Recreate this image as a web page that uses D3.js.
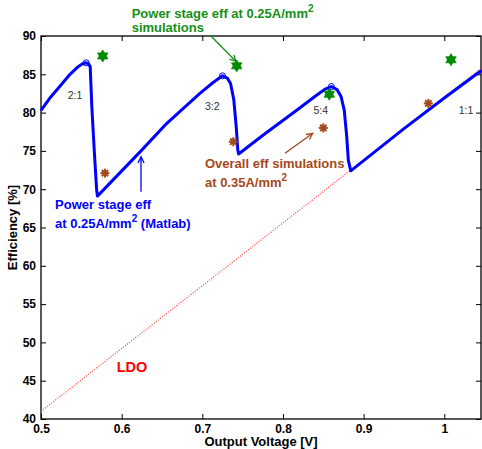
<!DOCTYPE html>
<html>
<head>
<meta charset="utf-8">
<script src="https://cdn.jsdelivr.net/npm/d3@7"></script>
<style>
  body { margin: 0; background: #fff; }
  svg { font-family: "Liberation Sans", Arial, Helvetica, sans-serif; }
  .tick text { font-weight: bold; font-size: 12px; fill: #000; }
</style>
</head>
<body>
<script>
// Matlab power stage efficiency @0.25A/mm2 (V, %)
const matlabCurve = [
  [0.500, 80.3], [0.511, 81.9], [0.524, 83.5], [0.536, 85.0], [0.546, 86.0], [0.551, 86.35], [0.556, 86.5],
  [0.559, 86.35], [0.561, 86.0], [0.563, 80.8], [0.566, 75.1], [0.569, 69.9], [0.570, 69.1],
  [0.624, 75.0], [0.656, 78.6], [0.697, 82.5], [0.713, 83.9], [0.725, 84.8],
  [0.731, 84.5], [0.735, 83.8], [0.739, 81.7], [0.742, 78.2], [0.744, 75.1], [0.745, 74.6],
  [0.776, 77.1], [0.817, 80.3], [0.842, 82.3], [0.853, 83.1], [0.860, 83.4],
  [0.867, 83.0], [0.872, 82.1], [0.876, 80.3], [0.879, 76.9], [0.881, 73.8], [0.884, 72.4],
  [0.950, 77.9], [1.000, 81.9], [1.046, 85.5]
];
// peaks marked with circles
const peakMarks = [[0.556, 86.5], [0.725, 84.8], [0.860, 83.4]];
// power stage simulations @0.25A/mm2
const simPower = [[0.5765, 87.4], [0.7426, 86.1], [0.8574, 82.4], [1.0083, 86.9]];
// overall simulations @0.35A/mm2
const simOverall = [[0.5793, 72.1], [0.7384, 76.2], [0.8500, 78.0], [0.9802, 81.2]];
// LDO efficiency
const ldoLine = [[0.5, 41.0], [0.75, 61.5], [1.046, 85.8]];
// conversion ratio labels
const ratioLabels = [["2:1", 0.5421, 82.2], ["3:2", 0.7124, 80.8], ["5:4", 0.8468, 80.3], ["1:1", 1.0269, 80.3]];

const xTicks = [0.5, 0.6, 0.7, 0.8, 0.9, 1];
const yTicks = [40, 45, 50, 55, 60, 65, 70, 75, 80, 85, 90];

const W = 482, H = 449;
const x = d3.scaleLinear().domain([0.5, 1.0455]).range([41, 481]);
const y = d3.scaleLinear().domain([40, 90]).range([419, 36]);

const svg = d3.select("body").append("svg")
  .attr("width", W).attr("height", H);

// axes box with inward ticks
svg.append("g").attr("transform", `translate(0,${y(40)})`)
  .call(d3.axisBottom(x).tickValues(xTicks).tickSize(-5).tickPadding(5).tickFormat(d => d))
  .call(g => g.select(".domain").remove());
svg.append("g").attr("transform", `translate(0,${y(90)})`)
  .call(d3.axisTop(x).tickValues(xTicks).tickSize(-5).tickFormat(""))
  .call(g => g.select(".domain").remove());
svg.append("g").attr("transform", `translate(${x(0.5)},0)`)
  .call(d3.axisLeft(y).tickValues(yTicks).tickSize(-5).tickPadding(5))
  .call(g => g.select(".domain").remove());
svg.append("g").attr("transform", `translate(${x.range()[1]},0)`)
  .call(d3.axisRight(y).tickValues(yTicks).tickSize(-5).tickFormat(""))
  .call(g => g.select(".domain").remove());
svg.selectAll(".tick line").attr("stroke", "#000");

svg.append("rect")
  .attr("x", x(0.5)).attr("y", y(90))
  .attr("width", x.range()[1] - x(0.5)).attr("height", y(40) - y(90))
  .attr("fill", "none").attr("stroke", "#000").attr("stroke-width", 1.3);

const line = d3.line().x(d => x(d[0])).y(d => y(d[1]));

// LDO
svg.append("path").datum(ldoLine)
  .attr("d", line).attr("fill", "none")
  .attr("stroke", "#ff4040").attr("stroke-width", 1.3)
  .attr("stroke-dasharray", "1,1.6");

// Matlab curve
svg.append("path").datum(matlabCurve)
  .attr("d", line).attr("fill", "none")
  .attr("stroke", "#0000ff").attr("stroke-width", 3)
  .attr("stroke-linejoin", "round");

svg.selectAll("circle.peak").data(peakMarks).enter().append("circle")
  .attr("cx", d => x(d[0])).attr("cy", d => y(d[1])).attr("r", 3)
  .attr("fill", "none").attr("stroke", "#0000ff").attr("stroke-width", 1);

// hexagram markers
function hexagram(r) {
  const p = [];
  for (let k = 0; k < 2; k++) {
    const pts = d3.range(3).map(i => {
      const a = -Math.PI / 2 + k * Math.PI + i * 2 * Math.PI / 3;
      return [r * Math.cos(a), r * Math.sin(a)];
    });
    p.push("M" + pts.map(q => q.join(",")).join("L") + "Z");
  }
  return p.join("");
}
svg.selectAll("path.sim").data(simPower).enter().append("path")
  .attr("d", hexagram(6))
  .attr("transform", d => `translate(${x(d[0])},${y(d[1])})`)
  .attr("fill", "#008a00").attr("stroke", "#008a00").attr("stroke-width", 0.8);

// asterisk markers
const astColor = "#a5481a";
svg.selectAll("g.ast").data(simOverall).enter().append("g")
  .attr("transform", d => `translate(${x(d[0])},${y(d[1])})`)
  .each(function () {
    const g = d3.select(this);
    [0, 45, 90, 135].forEach(a => {
      g.append("line").attr("x1", -4.5).attr("x2", 4.5)
        .attr("transform", `rotate(${a})`)
        .attr("stroke", astColor).attr("stroke-width", 2);
    });
    g.append("circle").attr("r", 2.5).attr("fill", astColor);
  });

// ratio labels
svg.selectAll("text.ratio").data(ratioLabels).enter().append("text")
  .attr("x", d => x(d[1])).attr("y", d => y(d[2]))
  .attr("dy", "0.35em").attr("text-anchor", "middle")
  .attr("font-size", 10.5).attr("fill", "#333").text(d => d[0]);

// annotations
// green
(function () {
  const t = svg.append("text").attr("font-weight", "bold").attr("font-size", 13).attr("fill", "#168f16");
  t.append("tspan").attr("x", x(0.6124)).attr("y", y(92.35)).text("Power stage eff at 0.25A/mm");
  t.append("tspan").attr("dy", -6).attr("font-size", 10).text("2");
  t.append("tspan").attr("x", x(0.6124)).attr("y", y(90.52)).text("simulations");
})();
// brown
(function () {
  const t = svg.append("text").attr("font-weight", "bold").attr("font-size", 13).attr("fill", astColor);
  t.append("tspan").attr("x", x(0.7033)).attr("y", y(72.73)).text("Overall eff simulations");
  t.append("tspan").attr("x", x(0.7033)).attr("y", y(70.33)).text("at 0.35A/mm");
  t.append("tspan").attr("dy", -6).attr("font-size", 10).text("2");
})();
// blue
(function () {
  const t = svg.append("text").attr("font-weight", "bold").attr("font-size", 13).attr("fill", "#0000ff");
  t.append("tspan").attr("x", x(0.5174)).attr("y", y(67.38)).text("Power stage eff");
  t.append("tspan").attr("x", x(0.5174)).attr("y", y(64.9)).text("at 0.25A/mm");
  t.append("tspan").attr("dy", -6).attr("font-size", 10).text("2");
  t.append("tspan").attr("dy", 6).text(" (Matlab)");
})();
svg.append("text").attr("x", x(0.5939)).attr("y", y(46.1))
  .attr("font-weight", "bold").attr("font-size", 14.5).attr("fill", "#ff0000").text("LDO");

// arrows
function arrow(a, b, color) {
  const x1 = x(a[0]), y1 = y(a[1]), x2 = x(b[0]), y2 = y(b[1]);
  const ang = Math.atan2(y2 - y1, x2 - x1);
  const L = 7, s = 0.45;
  svg.append("line").attr("x1", x1).attr("y1", y1).attr("x2", x2).attr("y2", y2)
    .attr("stroke", color).attr("stroke-width", 1.3);
  svg.append("path")
    .attr("d", `M${x2 - L * Math.cos(ang - s)},${y2 - L * Math.sin(ang - s)}L${x2},${y2}L${x2 - L * Math.cos(ang + s)},${y2 - L * Math.sin(ang + s)}`)
    .attr("fill", "none").attr("stroke", color).attr("stroke-width", 1.3);
}
arrow([0.7095, 90.13], [0.7418, 86.67], "#168f16");
arrow([0.624, 69.67], [0.624, 74.24], "#0000ff");
arrow([0.8025, 74.69], [0.8369, 77.3], astColor);

// axis labels
svg.append("text").attr("x", (x(0.5) + x.range()[1]) / 2).attr("y", 446)
  .attr("text-anchor", "middle").attr("font-weight", "bold").attr("font-size", 13)
  .text("Output Voltage [V]");
svg.append("text")
  .attr("transform", `translate(17,${(y(40) + y(90)) / 2}) rotate(-90)`)
  .attr("text-anchor", "middle").attr("font-weight", "bold").attr("font-size", 13)
  .text("Efficiency [%]");
</script>
</body>
</html>
